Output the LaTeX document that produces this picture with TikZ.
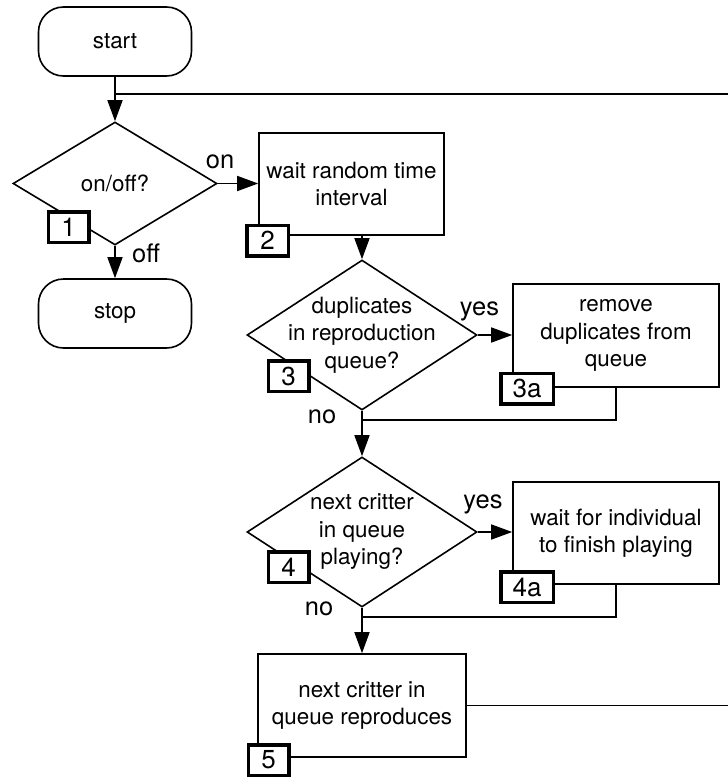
\documentclass[tikz,border=0pt]{standalone}
\usepackage{fontspec}
\setmainfont{TeX Gyre Heros}
\usetikzlibrary{shapes.geometric,arrows.meta}
\begin{document}
\begin{tikzpicture}[x=1pt,y=-1pt,
  line width=1.6pt,
  every node/.style={font=\fontsize{22.4}{27.5}\selectfont},
  term/.style={draw, rounded corners=25pt, minimum width=153pt, minimum height=69pt, align=center, inner sep=0pt},
  proc/.style={draw, align=center, inner sep=0pt},
  dec/.style={draw, diamond, inner sep=0pt},
  tag/.style={draw, line width=3.5pt, fill=white, inner sep=0pt, minimum height=30.5pt, font=\fontsize{26}{30}\selectfont},
  elab/.style={font=\fontsize{25.5}{30}\selectfont, anchor=base, inner sep=0pt},
  arr/.style={-{Triangle[length=21pt,width=15pt]}}
]
\useasboundingbox (0,0) rectangle (728,777);

% shapes
\node[term] (start) at (115,41.5) {start};
\node[term] (stop) at (115,313.5) {stop};
\node[dec, minimum width=204pt, minimum height=123pt] (d1) at (115,183.5) {};
\node (d1t) at (d1) {on/off?};
\node[proc, minimum width=185pt, minimum height=102pt] (b2) at (351.5,184) {wait random time\\interval};
\node[dec, minimum width=230pt, minimum height=150pt] (d3) at (362,335) {};
\node[align=center] (d3t) at (d3) {duplicates\\in reproduction\\queue?};
\node[proc, minimum width=206pt, minimum height=103pt] (b3a) at (616,335.5) {remove\\duplicates from\\queue};
\node[dec, minimum width=230pt, minimum height=150pt] (d4) at (362,532) {};
\node[align=center] (d4t) at (d4) {next critter\\in queue\\playing?};
\node[proc, minimum width=206pt, minimum height=102pt] (b4a) at (616,533) {wait for individual\\to finish playing};
\node[proc, minimum width=208pt, minimum height=103pt] (b5) at (362,705.5) {next critter in\\queue reproduces};

% connectors
\coordinate (loopR) at (728,94);
\coordinate (j1) at (start.south |- loopR);
\draw[arr] (start.south) -- (d1.north);
\draw (loopR) -- (j1);
\draw[arr] (d1.east) -- (d1.east -| b2.west);
\node[elab] (on) at (220,168) {on};
\draw[arr] (d1.south) -- (stop.north);
\node[elab] (off) at (146,262) {off};
\draw[arr] (b2.south -| d3.north) -- (d3.north);
\draw[arr] (d3.east) -- (d3.east -| b3a.west);
\node[elab] (yes3) at (479.5,315) {yes};
\draw[arr] (d3.south) -- (d4.north);
\coordinate (j3) at (362,420);
\draw (b3a.south) |- (j3);
\node[elab] (no3) at (322,423) {no};
\draw[arr] (d4.east) -- (d4.east -| b4a.west);
\node[elab] (yes4) at (483,508) {yes};
\draw[arr] (d4.south) -- (b5.north);
\coordinate (j4) at (362,617);
\draw (b4a.south) |- (j4);
\node[elab] (no4) at (319,615) {no};
\coordinate (outR) at (728,706);
\draw (b5.east) -- (b5.east -| outR);

% step tags
\node[tag, minimum width=40.5pt] (t1) at (68.5,227) {1};
\node[tag, minimum width=41.5pt] (t2) at (267.5,240.5) {2};
\node[tag, minimum width=40.5pt] (t3) at (288.5,376) {3};
\node[tag, minimum width=52.5pt] (t3a) at (527,388.5) {3a};
\node[tag, minimum width=40.5pt] (t4) at (288.5,567) {4};
\node[tag, minimum width=52.5pt] (t4a) at (527,587) {4a};
\node[tag, minimum width=40.5pt] (t5) at (268.5,760) {5};
\end{tikzpicture}
\end{document}
